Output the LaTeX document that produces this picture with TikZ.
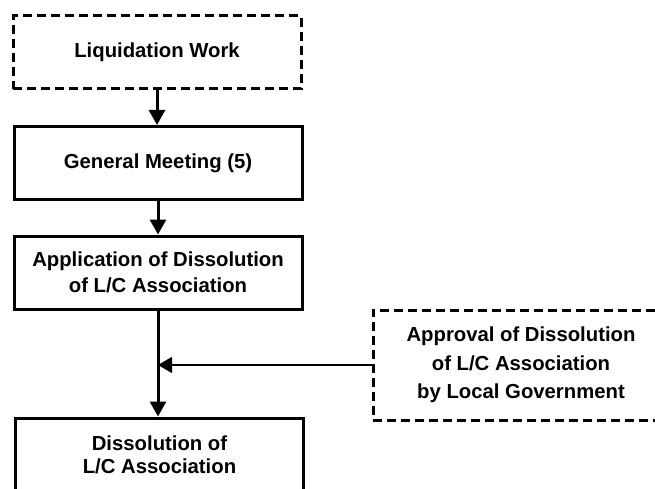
\documentclass[tikz,border=0pt]{standalone}
\usepackage{fontspec}
\usetikzlibrary{arrows.meta}
\newfontfamily\boxfont{Liberation Sans}
\begin{document}
\begin{tikzpicture}[x=1pt,y=-1pt,
  stepbox/.style={draw=black,line width=3pt,minimum width=288pt,minimum height=73pt,
    align=center,inner sep=0pt,font=\boxfont\bfseries\fontsize{20.3}{28}\selectfont},
  dashbox/.style={stepbox,dash pattern=on 9pt off 5pt},
  flow/.style={line width=3pt,-{Triangle[length=15pt,width=16pt]}},
  side/.style={line width=1.2pt,-{Triangle[length=14pt,width=16pt]}}]
  \useasboundingbox (0,0) rectangle (655,489);
  \clip (0,0) rectangle (655,489);
  \fill[white] (0,0) rectangle (655,489);
  % main chain of steps
  \node[dashbox] (work) at (157,52.5) {Liquidation Work};
  \node[stepbox] (meeting) at (158,163) {General Meeting (5)};
  \node[stepbox,font=\boxfont\bfseries\fontsize{20.3}{26}\selectfont] (apply) at (158,272.5)
    {Application of Dissolution\\of L/C Association};
  \node[stepbox,minimum height=74pt,font=\boxfont\bfseries\fontsize{20.3}{23}\selectfont] (dissolve) at (159.5,455)
    {Dissolution of\\L/C Association};
  % approval from the local government
  \node[dashbox,minimum width=296pt,minimum height=110pt,font=\boxfont\bfseries\fontsize{20.3}{28.5}\selectfont]
    (approve) at (521,365) {Approval of Dissolution\\of L/C Association\\by Local Government};
  \coordinate (join) at (approve.west -| apply.south);
  \draw[flow] (work.south) -- (work.south |- meeting.north);
  \draw[flow] (meeting.south) -- (meeting.south |- apply.north);
  \draw[flow] (apply.south) -- (apply.south |- dissolve.north);
  \draw[side] (approve.west) -- (join);
\end{tikzpicture}
\end{document}
